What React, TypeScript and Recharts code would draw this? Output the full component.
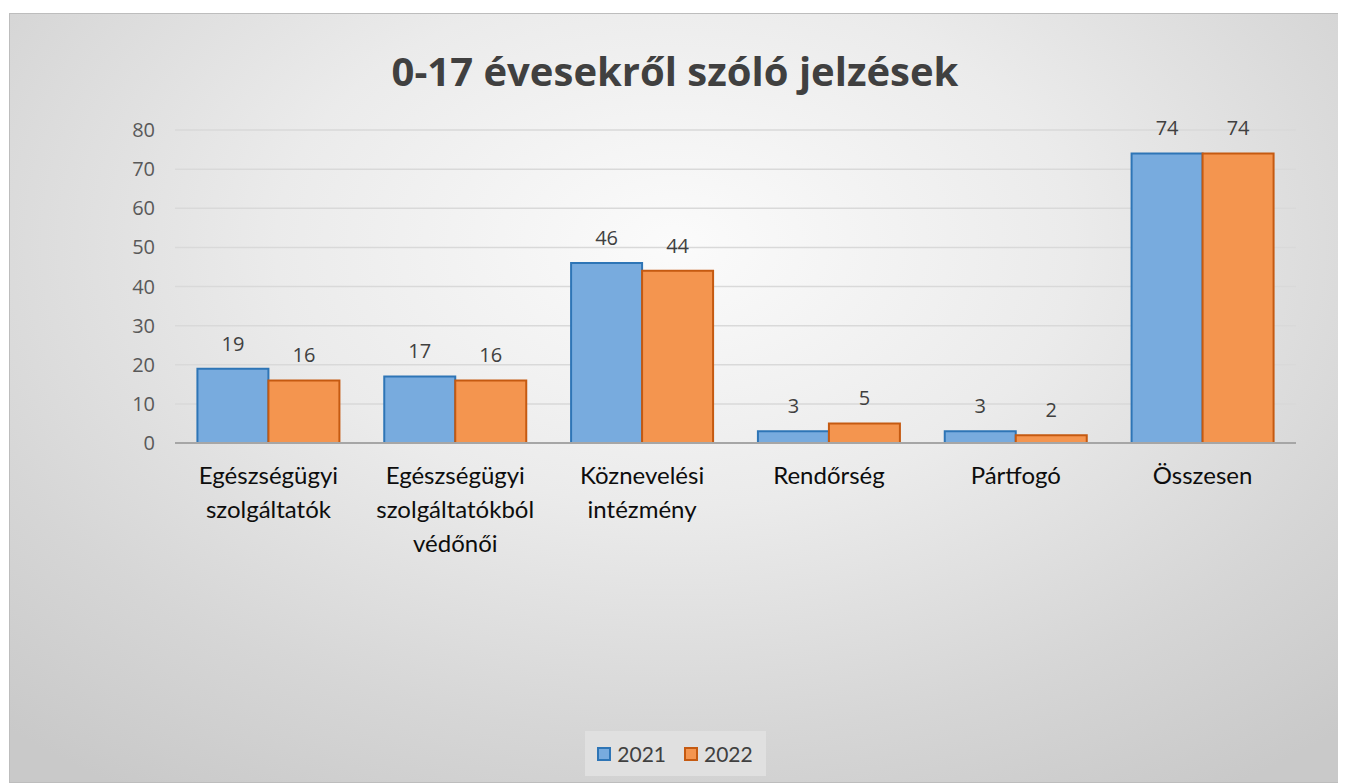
import { BarChart, Bar, XAxis, YAxis, CartesianGrid, Legend, LabelList } from "recharts";

const categories = [
  "Egészségügyi szolgáltatók",
  "Egészségügyi szolgáltatókból védőnői",
  "Köznevelési intézmény",
  "Rendőrség",
  "Pártfogó",
  "Összesen",
];
const values2021 = [19, 17, 46, 3, 3, 74];
const values2022 = [16, 16, 44, 5, 2, 74];
const yTicks = [0, 10, 20, 30, 40, 50, 60, 70, 80];
const seriesNames = ["2021", "2022"];

const BLUE = "#78abde";
const BLUE_EDGE = "#2e75b6";
const ORANGE = "#f4954f";
const ORANGE_EDGE = "#c55a11";

const data = categories.map((name, i) => ({
  name,
  v2021: values2021[i],
  v2022: values2022[i],
}));

function CategoryTick({ x, y, payload }: any) {
  const words = String(payload.value).split(" ");
  return (
    <text x={x} y={y} textAnchor="middle" fill="#0d0d0d" fontFamily="Lato" fontSize={24}>
      {words.map((w, i) => (
        <tspan key={i} x={x} dy={i === 0 ? 41 : 34}>
          {w}
        </tspan>
      ))}
    </text>
  );
}

function LegendBox() {
  const items = [
    { label: seriesNames[0], fill: BLUE, edge: BLUE_EDGE },
    { label: seriesNames[1], fill: ORANGE, edge: ORANGE_EDGE },
  ];
  return (
    <div
      style={{
        width: 181,
        height: 45,
        margin: "0 auto",
        background: "#e0e0e0",
        display: "flex",
        alignItems: "center",
        justifyContent: "center",
        gap: 18,
        fontFamily: "Lato",
        fontSize: 21,
        color: "#404040",
      }}
    >
      {items.map((it) => (
        <div key={it.label} style={{ display: "flex", alignItems: "center", gap: 6 }}>
          <span
            style={{
              display: "inline-block",
              width: 10,
              height: 10,
              background: it.fill,
              border: `2px solid ${it.edge}`,
            }}
          />
          <span>{it.label}</span>
        </div>
      ))}
    </div>
  );
}

export default function App() {
  return (
    <div
      style={{
        position: "relative",
        marginTop: 5,
        marginLeft: 1,
        width: 1332,
        height: 770,
        border: "1px solid #bdbdbd",
        boxSizing: "border-box",
        background:
          "radial-gradient(ellipse 75% 85% at 50% 30%, #fbfbfb 0%, #ebebeb 40%, #d6d6d6 75%, #c9c9c9 100%)",
      }}
    >
      <div
        style={{
          position: "absolute",
          top: 29,
          left: 0,
          width: "100%",
          textAlign: "center",
          fontFamily: "'Open Sans'",
          fontWeight: 700,
          fontSize: 40,
          color: "#404040",
        }}
      >
        0-17 évesekről szóló jelzések
      </div>
      <BarChart
        width={1330}
        height={768}
        data={data}
        margin={{ top: 116, right: 44, left: 0, bottom: 6 }}
        barCategoryGap="12%"
        barGap={0}
      >
        <CartesianGrid vertical={false} stroke="#d9d9d9" strokeWidth={1.5} />
        <XAxis
          dataKey="name"
          interval={0}
          tickLine={false}
          tickSize={0}
          tickMargin={0}
          height={288}
          axisLine={{ stroke: "#a6a6a6", strokeWidth: 2 }}
          tick={<CategoryTick />}
        />
        <YAxis
          width={165}
          domain={[0, 80]}
          ticks={yTicks}
          axisLine={false}
          tickLine={false}
          tickSize={0}
          tickMargin={20}
          tick={{ fill: "#595959", fontSize: 20, fontFamily: "'Open Sans'" }}
        />
        <Legend
          verticalAlign="bottom"
          align="center"
          wrapperStyle={{ left: 0, width: 1330 }}
          content={<LegendBox />}
        />
        <Bar dataKey="v2021" name={seriesNames[0]} fill={BLUE} stroke={BLUE_EDGE} strokeWidth={2} isAnimationActive={false}>
          <LabelList dataKey="v2021" position="top" offset={18} fill="#404040" fontSize={20} fontFamily="'Open Sans'" />
        </Bar>
        <Bar dataKey="v2022" name={seriesNames[1]} fill={ORANGE} stroke={ORANGE_EDGE} strokeWidth={2} isAnimationActive={false}>
          <LabelList dataKey="v2022" position="top" offset={18} fill="#404040" fontSize={20} fontFamily="'Open Sans'" />
        </Bar>
      </BarChart>
    </div>
  );
}
